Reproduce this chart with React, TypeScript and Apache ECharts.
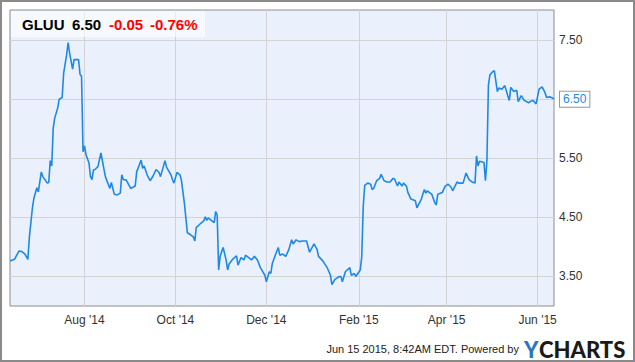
import React, { useEffect, useRef } from "react";
import * as echarts from "echarts";

const dates = [
  "2014-06-12","2014-06-15","2014-06-18","2014-06-20","2014-06-22","2014-06-24","2014-06-25","2014-06-27","2014-06-28","2014-06-30",
  "2014-07-01","2014-07-03","2014-07-04","2014-07-07","2014-07-08","2014-07-09","2014-07-10","2014-07-11","2014-07-12","2014-07-14",
  "2014-07-15","2014-07-17","2014-07-18","2014-07-20","2014-07-21","2014-07-22","2014-07-24","2014-07-25","2014-07-28","2014-07-29",
  "2014-07-30","2014-07-31","2014-08-01","2014-08-02","2014-08-04","2014-08-05","2014-08-06","2014-08-07","2014-08-08","2014-08-10",
  "2014-08-12","2014-08-15","2014-08-18","2014-08-19","2014-08-21","2014-08-23","2014-08-25","2014-08-26","2014-08-27","2014-08-29",
  "2014-09-01","2014-09-04","2014-09-05","2014-09-08","2014-09-09","2014-09-10","2014-09-12","2014-09-14","2014-09-16","2014-09-18",
  "2014-09-20","2014-09-21","2014-09-24","2014-09-25","2014-09-28","2014-09-29","2014-09-30","2014-10-02","2014-10-04","2014-10-05",
  "2014-10-07","2014-10-09","2014-10-11","2014-10-13","2014-10-14","2014-10-15","2014-10-16","2014-10-18","2014-10-20","2014-10-21",
  "2014-10-22","2014-10-23","2014-10-25","2014-10-27","2014-10-28","2014-10-29","2014-10-30","2014-10-31","2014-11-01","2014-11-02",
  "2014-11-04","2014-11-05","2014-11-06","2014-11-08","2014-11-11","2014-11-12","2014-11-14","2014-11-16","2014-11-17","2014-11-20",
  "2014-11-21","2014-11-23","2014-11-25","2014-11-27","2014-11-30","2014-12-01","2014-12-03","2014-12-04","2014-12-05","2014-12-07",
  "2014-12-09","2014-12-10","2014-12-12","2014-12-14","2014-12-16","2014-12-18","2014-12-19","2014-12-21","2014-12-23","2014-12-25",
  "2014-12-28","2014-12-30","2015-01-02","2015-01-04","2015-01-05","2015-01-08","2015-01-11","2015-01-13","2015-01-14","2015-01-16",
  "2015-01-19","2015-01-20","2015-01-21","2015-01-23","2015-01-26","2015-01-27","2015-01-29","2015-01-30","2015-02-02","2015-02-03",
  "2015-02-04","2015-02-05","2015-02-07","2015-02-09","2015-02-10","2015-02-11","2015-02-13","2015-02-15","2015-02-16","2015-02-18",
  "2015-02-20","2015-02-22","2015-02-24","2015-02-25","2015-02-27","2015-02-28","2015-03-02","2015-03-03","2015-03-05","2015-03-06",
  "2015-03-08","2015-03-11","2015-03-12","2015-03-15","2015-03-17","2015-03-18","2015-03-19","2015-03-22","2015-03-24","2015-03-25",
  "2015-03-26","2015-03-29","2015-03-31","2015-04-02","2015-04-04","2015-04-05","2015-04-08","2015-04-09","2015-04-12","2015-04-14",
  "2015-04-16","2015-04-18","2015-04-20","2015-04-21","2015-04-22","2015-04-23","2015-04-26","2015-04-27","2015-04-28","2015-04-29",
  "2015-04-30","2015-05-02","2015-05-03","2015-05-05","2015-05-06","2015-05-08","2015-05-10","2015-05-12","2015-05-13","2015-05-14",
  "2015-05-16","2015-05-18","2015-05-19","2015-05-21","2015-05-23","2015-05-26","2015-05-27","2015-05-29","2015-05-31","2015-06-02",
  "2015-06-04","2015-06-06","2015-06-07","2015-06-09","2015-06-11","2015-06-12"
];

const prices = [
  3.76,3.79,3.93,3.92,3.88,3.79,4.17,4.65,4.82,5.00,
  4.93,5.27,5.19,5.08,5.09,5.46,5.37,6.01,6.18,6.35,
  6.50,6.53,6.94,7.25,7.46,7.28,7.01,7.17,7.17,6.92,
  6.89,5.61,5.71,5.56,5.42,5.19,5.14,5.30,5.31,5.36,
  5.59,5.19,4.99,5.09,4.89,4.88,4.91,5.22,5.14,5.13,
  4.99,5.03,5.27,5.47,5.33,5.37,5.22,5.12,5.20,5.31,
  5.26,5.19,5.46,5.35,5.22,5.14,5.08,5.26,5.22,5.13,
  4.74,4.24,4.21,4.17,4.10,4.33,4.35,4.40,4.44,4.51,
  4.45,4.49,4.45,4.41,4.60,4.54,3.61,3.84,3.92,3.99,
  3.78,3.61,3.71,3.78,3.85,3.69,3.82,3.78,3.86,3.80,
  3.78,3.84,3.78,3.65,3.52,3.41,3.58,3.55,3.72,3.86,
  3.99,3.86,3.88,3.84,3.95,4.12,4.05,4.12,4.09,4.10,
  4.10,3.91,4.05,3.96,3.84,3.76,3.64,3.52,3.36,3.45,
  3.50,3.50,3.41,3.58,3.65,3.52,3.55,3.50,3.61,3.83,
  4.68,5.04,5.08,5.06,4.97,4.99,5.12,5.16,5.23,5.12,
  5.10,5.10,5.16,5.15,5.03,5.10,5.03,5.08,5.03,4.92,
  4.81,4.78,4.66,4.81,4.97,4.91,4.95,4.89,4.75,4.71,
  4.89,4.92,5.03,5.06,5.01,4.95,5.10,5.08,5.08,5.25,
  5.14,5.10,5.08,5.54,5.37,5.45,5.43,5.12,5.47,6.74,
  6.91,6.97,6.98,6.63,6.69,6.67,6.73,6.56,6.48,6.70,
  6.63,6.65,6.46,6.56,6.48,6.44,6.46,6.48,6.42,6.67,
  6.71,6.61,6.53,6.54,6.52,6.50
];

const xTickDates = ["2014-08-01","2014-10-01","2014-12-01","2015-02-01","2015-04-01","2015-06-01"];
const yTicks = [3.5, 4.5, 5.5, 6.5, 7.5];
const yLabelValues = [3.5, 4.5, 5.5, 7.5];
const monthNames = ["Jan","Feb","Mar","Apr","May","Jun","Jul","Aug","Sep","Oct","Nov","Dec"];

const ticker = "GLUU";
const lastPrice = "6.50";
const change = "-0.05";
const changePct = "-0.76%";
const footerText = "Jun 15 2015, 8:42AM EDT. Powered by";

const ts = (s: string) => {
  const [y, m, d] = s.split("-").map(Number);
  return new Date(y, m - 1, d).getTime();
};

export default function App() {
  const ref = useRef<HTMLDivElement>(null);
  useEffect(() => {
    if (!ref.current) return;
    const chart = echarts.init(ref.current, null, { renderer: "svg" });
    const data = dates.map((d, i) => [ts(d), prices[i]]);
    const xTicks = xTickDates.map(ts);
    const font = "Arial, 'Liberation Sans', sans-serif";
    chart.setOption({
      animation: false,
      backgroundColor: "#ffffff",
      grid: {
        left: 10,
        top: 10,
        right: 81,
        bottom: 56,
        show: true,
        backgroundColor: "#eaf1fc",
        borderColor: "#8c8c8c",
        borderWidth: 1,
      },
      xAxis: {
        type: "value",
        min: ts("2014-06-12"),
        max: ts("2015-06-12"),
        axisLine: { show: false },
        axisTick: { show: false, customValues: xTicks },
        splitLine: { show: true, lineStyle: { color: "#d3d3d3", width: 1 } },
        axisLabel: {
          customValues: xTicks,
          margin: 8,
          color: "#333",
          fontSize: 12,
          fontFamily: font,
          formatter: (v: number) => {
            const d = new Date(v);
            return `${monthNames[d.getMonth()]} '${String(d.getFullYear()).slice(2)}`;
          },
        },
      },
      yAxis: {
        type: "value",
        position: "right",
        min: 3.0,
        max: 8.01,
        axisLine: { show: false },
        axisTick: { show: false, customValues: yTicks },
        splitLine: { show: true, lineStyle: { color: "#d3d3d3", width: 1 } },
        axisLabel: {
          customValues: yLabelValues,
          margin: 5,
          color: "#333",
          fontSize: 12,
          fontFamily: font,
          formatter: (v: number) => v.toFixed(2),
        },
      },
      series: [
        {
          type: "line",
          data,
          showSymbol: false,
          symbol: "none",
          lineStyle: { color: "#1e88e5", width: 1.6 },
          endLabel: {
            show: true,
            formatter: (p: any) => Number(p.value[1]).toFixed(2),
            color: "#1e88e5",
            fontSize: 12,
            fontFamily: font,
            backgroundColor: "#ffffff",
            borderColor: "#999999",
            borderWidth: 1,
            padding: [2, 3, 1, 3],
            distance: 6,
          },
        },
      ],
      graphic: [
        {
          type: "rect",
          shape: { x: 1, y: 1, width: 633, height: 360 },
          style: { fill: "none", stroke: "#8a8a8a", lineWidth: 2 },
          silent: true,
          z: 100,
        },
        {
          type: "rect",
          shape: { x: 11, y: 11, width: 194, height: 26 },
          style: { fill: "rgba(255,255,255,0.55)" },
          z: 50,
        },
        {
          type: "text",
          x: 22, y: 24, z: 51,
          style: { text: ticker, fill: "#000", font: `bold 15px ${font}`, verticalAlign: "middle" },
        },
        {
          type: "text",
          x: 72, y: 24, z: 51,
          style: { text: lastPrice, fill: "#000", font: `bold 15px ${font}`, verticalAlign: "middle" },
        },
        {
          type: "text",
          x: 109, y: 24, z: 51,
          style: { text: change, fill: "#ff0000", font: `bold 15px ${font}`, verticalAlign: "middle" },
        },
        {
          type: "text",
          x: 150, y: 24, z: 51,
          style: { text: changePct, fill: "#ff0000", font: `bold 15px ${font}`, verticalAlign: "middle" },
        },
        {
          type: "text",
          x: 519, y: 349, z: 51,
          style: { text: footerText, fill: "#222", font: `11px ${font}`, align: "right", verticalAlign: "middle" },
        },
        {
          type: "text",
          x: 524, y: 349, z: 51,
          style: { text: "Y", fill: "#2b74c4", font: `900 22px Lato, sans-serif`, verticalAlign: "middle" },
        },
        {
          type: "text",
          x: 539, y: 349, z: 51,
          style: { text: "CHARTS", fill: "#1a1a1a", font: `900 22px Lato, sans-serif`, verticalAlign: "middle" },
        },
      ],
    });
    return () => chart.dispose();
  }, []);
  return (
    <div
      ref={ref}
      style={{ position: "fixed", left: 0, top: 0, width: 635, height: 362 }}
    />
  );
}
